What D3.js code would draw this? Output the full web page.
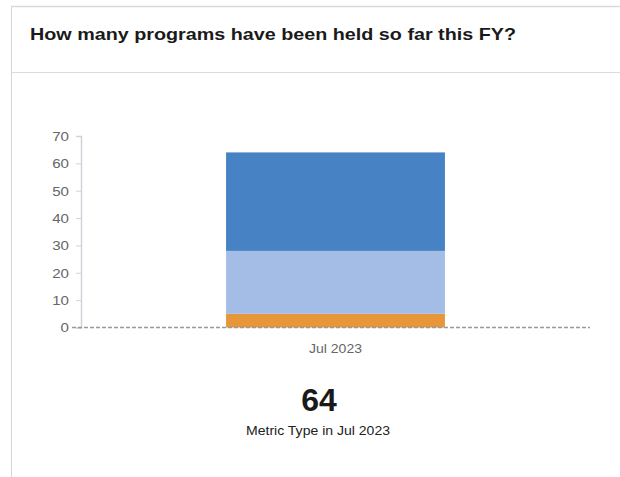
<!DOCTYPE html>
<html>
<head>
<meta charset="utf-8">
<script src="https://cdn.jsdelivr.net/npm/d3@7"></script>
<style>
  html, body { margin: 0; padding: 0; background: #fff; }
  svg { display: block; font-family: "Liberation Sans", Arial, sans-serif; }
</style>
</head>
<body>
<svg id="chart" width="620" height="477"></svg>
<script>
// Programs held per month, stacked by metric type
const months = ["Jul 2023"];
const seriesNames = ["Type A", "Type B", "Type C"];
const typeA = [5];
const typeB = [23];
const typeC = [36];
const seriesColors = ["#e8963a", "#a3bde6", "#4682c4"];
const yTicks = [0, 10, 20, 30, 40, 50, 60, 70];
const titleText = "How many programs have been held so far this FY?";
const subtitleText = "Metric Type in Jul 2023";

const rows = months.map((m, i) => ({
  month: m, "Type A": typeA[i], "Type B": typeB[i], "Type C": typeC[i]
}));
const total = typeA[0] + typeB[0] + typeC[0];

const svg = d3.select("#chart");

// card frame
svg.append("line").attr("x1", 11).attr("x2", 620).attr("y1", 6.5).attr("y2", 6.5)
  .attr("stroke", "#d9d9d9").attr("stroke-width", 1.5);
svg.append("line").attr("x1", 11).attr("x2", 620).attr("y1", 72.5).attr("y2", 72.5)
  .attr("stroke", "#dcdcdc").attr("stroke-width", 1);
svg.append("line").attr("x1", 11.5).attr("x2", 11.5).attr("y1", 6).attr("y2", 477)
  .attr("stroke", "#d6d6d6").attr("stroke-width", 1);

svg.append("text").attr("x", 30).attr("y", 40)
  .attr("font-size", 16.5).attr("font-weight", "bold").attr("fill", "#1a1a1a")
  .attr("textLength", 486).attr("lengthAdjust", "spacingAndGlyphs")
  .text(titleText);

// plot
const x0 = 81, x1 = 590, yTop = 136, yBottom = 327.5;
const x = d3.scaleBand().domain(months).range([x0, x1]).paddingInner(0.57).paddingOuter(0.285);
const y = d3.scaleLinear().domain([0, 70]).range([yBottom, yTop]);

const stack = d3.stack().keys(seriesNames)(rows);

const yAxis = svg.append("g").attr("transform", `translate(${x0},0)`)
  .call(d3.axisLeft(y).tickValues(yTicks).tickSize(5).tickPadding(6));
yAxis.select(".domain").attr("stroke", "#d0d4da").attr("stroke-width", 1.5);
yAxis.selectAll(".tick line").attr("stroke", "#d0d4da");
yAxis.selectAll(".tick text").attr("fill", "#666").attr("font-size", 13.5)
  .attr("font-family", "Liberation Sans, Arial, sans-serif")
  .attr("transform", "scale(1.12,1)").attr("x", -12 / 1.12);

svg.append("g").selectAll("g").data(stack).join("g")
  .attr("fill", (d, i) => seriesColors[i])
  .selectAll("rect").data(d => d).join("rect")
  .attr("x", d => x(d.data.month))
  .attr("width", x.bandwidth())
  .attr("y", d => y(d[1]))
  .attr("height", d => y(d[0]) - y(d[1]));

// baseline
svg.append("line").attr("x1", 72).attr("x2", x1).attr("y1", y(0)).attr("y2", y(0))
  .attr("stroke", "#999").attr("stroke-width", 1.5).attr("stroke-dasharray", "4,2");

svg.append("g").selectAll("text").data(months).join("text")
  .attr("x", d => x(d) + x.bandwidth() / 2).attr("y", 353)
  .attr("text-anchor", "middle").attr("font-size", 13).attr("fill", "#666")
  .attr("textLength", 53).attr("lengthAdjust", "spacingAndGlyphs")
  .text(d => d);

svg.append("text").attr("x", 319).attr("y", 411)
  .attr("text-anchor", "middle").attr("font-size", 32).attr("font-weight", "bold")
  .attr("fill", "#1a1a1a").text(total);
svg.append("text").attr("x", 318).attr("y", 435)
  .attr("text-anchor", "middle").attr("font-size", 13).attr("fill", "#222")
  .attr("textLength", 144).attr("lengthAdjust", "spacingAndGlyphs")
  .text(subtitleText);
</script>
</body>
</html>
